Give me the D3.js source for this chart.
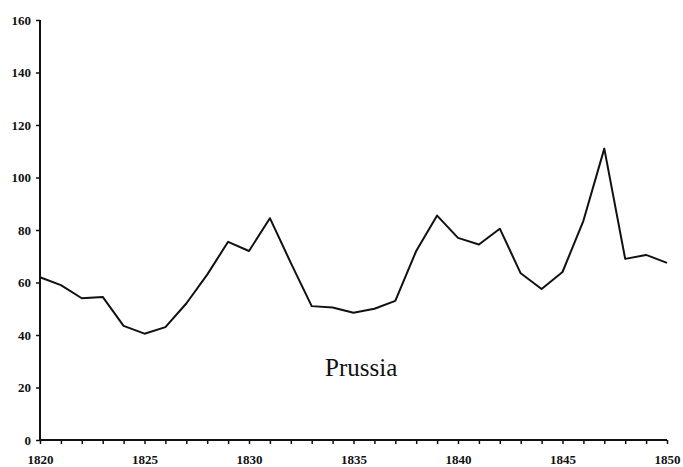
<!DOCTYPE html>
<html>
<head>
<meta charset="utf-8">
<script src="https://cdn.jsdelivr.net/npm/d3@7"></script>
<style>
  body { margin: 0; background: #fff; }
  svg { display: block; }
</style>
</head>
<body>
<div id="chart"></div>
<script>
// data
const years = d3.range(1820, 1851);
const prussia = [62, 59, 54, 54.5, 43.5, 40.5, 43, 52, 63, 75.5,
                 72, 84.5, 67.5, 51, 50.5, 48.5, 50, 53, 72, 85.5,
                 77, 74.5, 80.5, 63.5, 57.5, 64, 83.5, 111, 69, 70.5, 67.5];
const yTicks = [0, 20, 40, 60, 80, 100, 120, 140, 160];
const xLabels = [1820, 1825, 1830, 1835, 1840, 1845, 1850];
const seriesName = "Prussia";

const W = 683, H = 467;
const margin = {top: 20, right: 16, bottom: 27, left: 40};
const width = W - margin.left - margin.right;
const height = H - margin.top - margin.bottom;

const svg = d3.select("#chart").append("svg")
    .attr("width", W)
    .attr("height", H)
    .append("g")
    .attr("transform", `translate(${margin.left},${margin.top})`);

const x = d3.scaleLinear().domain([1820, 1850]).range([0, 627]);
const y = d3.scaleLinear().domain([0, 160]).range([height, 0]);

// x axis: a tick every year, label every 5
const xAxis = svg.append("g")
    .attr("transform", `translate(0,${height})`)
    .call(d3.axisBottom(x)
        .tickValues(years)
        .tickSize(4)
        .tickFormat(d => xLabels.includes(d) ? d : ""));

// y axis
const yAxis = svg.append("g")
    .call(d3.axisLeft(y)
        .tickValues(yTicks)
        .tickSize(4)
        .tickPadding(5));

[xAxis, yAxis].forEach(g => {
    g.attr("font-family", null);
    g.select(".domain").attr("stroke", "#111").attr("stroke-width", 2)
        .attr("d", g === xAxis ? `M0,0H${x(1850)}` : `M0,${height}V0`);
    g.selectAll(".tick line").attr("stroke", "#111").attr("stroke-width", 1.5);
    g.selectAll("text")
        .style("font-family", "'Liberation Serif', 'Times New Roman', serif")
        .style("font-weight", "bold")
        .style("font-size", "13px")
        .attr("fill", "#111");
});
xAxis.selectAll("text").attr("dy", "1.3em");

// the line
const line = d3.line()
    .x((d, i) => x(years[i]))
    .y(d => y(d));

svg.append("path")
    .datum(prussia)
    .attr("fill", "none")
    .attr("stroke", "#111")
    .attr("stroke-width", 2)
    .attr("stroke-linejoin", "round")
    .attr("d", line);

// series label
svg.append("text")
    .attr("x", 285)
    .attr("y", 356)
    .style("font-family", "'Liberation Serif', 'Times New Roman', serif")
    .style("font-size", "25px")
    .attr("fill", "#111")
    .text(seriesName);
</script>
</body>
</html>
